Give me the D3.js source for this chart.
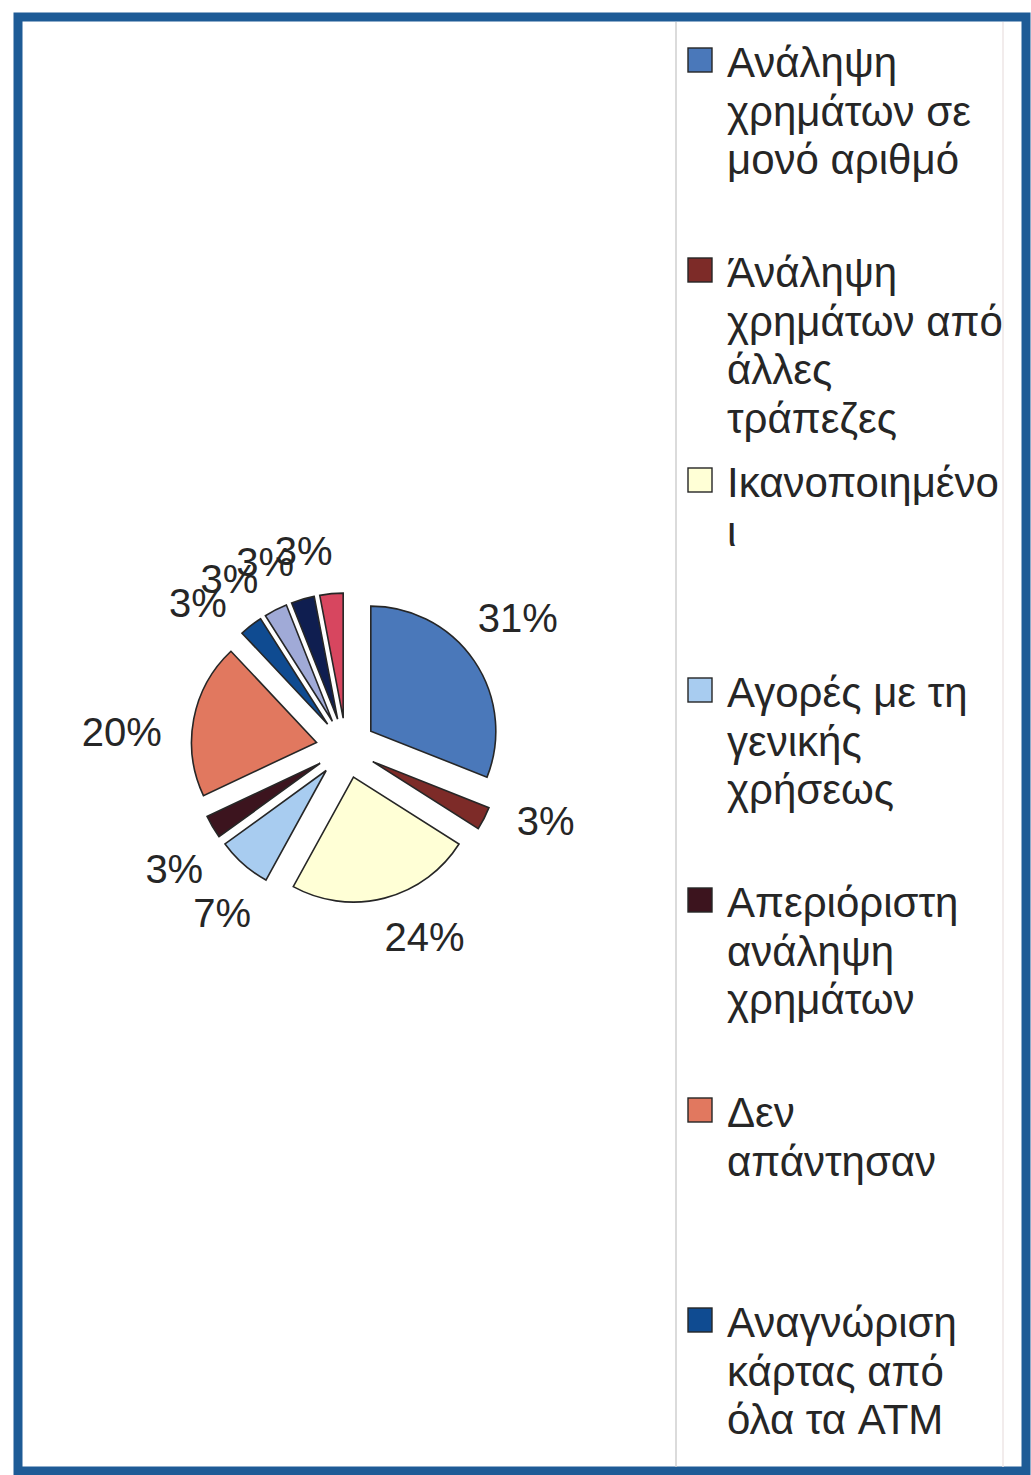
<!DOCTYPE html>
<html>
<head>
<meta charset="utf-8">
<script src="https://cdn.jsdelivr.net/npm/d3@7"></script>
<style>
  html, body { margin: 0; padding: 0; background: #ffffff; }
  svg { display: block; }
  text { font-family: "Liberation Sans", Arial, sans-serif; fill: #262626; }
</style>
</head>
<body>
<svg id="chart" width="1031" height="1475"></svg>
<script>
// Legend entries (only the first seven fit in the legend box)
const categories = [
  "Ανάληψη χρημάτων σε μονό αριθμό",
  "Άνάληψη χρημάτων από άλλες τράπεζες",
  "Ικανοποιημένοι",
  "Αγορές με τη γενικής χρήσεως",
  "Απεριόριστη ανάληψη χρημάτων",
  "Δεν απάντησαν",
  "Αναγνώριση κάρτας από όλα τα ATM"
];

// Slice shares in percent, clockwise from twelve o'clock
const values = [31, 3, 24, 7, 3, 20, 3, 3, 3, 3];

// Slice fills
const colors = [
  "#4a78ba", "#7d2b28", "#ffffd6", "#a8ccf0", "#3c141e",
  "#e1785f", "#0f4b91", "#a0aad7", "#0f1e50", "#d7465f"
];

const svg = d3.select("#chart");
const W = 1031, H = 1475;

// outer frame
svg.append("rect")
  .attr("x", 18).attr("y", 17)
  .attr("width", 1008).attr("height", 1454)
  .attr("fill", "#ffffff")
  .attr("stroke", "#1e5b96")
  .attr("stroke-width", 9);

// legend box edges
svg.append("line")
  .attr("x1", 676).attr("x2", 676).attr("y1", 22).attr("y2", 1467)
  .attr("stroke", "#cfcfcf").attr("stroke-width", 1.5);
svg.append("line")
  .attr("x1", 1003).attr("x2", 1003).attr("y1", 22).attr("y2", 1467)
  .attr("stroke", "#eee6e6").attr("stroke-width", 1.5);

// ---- pie ----
const cx = 346, cy = 748, radius = 125, explode = 30;
const pieGen = d3.pie().sort(null).value(d => d).startAngle(0).endAngle(2 * Math.PI);
const arcs = pieGen(values);
const arcGen = d3.arc().innerRadius(0).outerRadius(radius);

const pieG = svg.append("g").attr("transform", `translate(${cx},${cy})`);

pieG.selectAll("path.slice")
  .data(arcs)
  .join("path")
  .attr("class", "slice")
  .attr("d", arcGen)
  .attr("transform", d => {
    const a = (d.startAngle + d.endAngle) / 2;
    return `translate(${Math.sin(a) * explode},${-Math.cos(a) * explode})`;
  })
  .attr("fill", (d, i) => colors[i])
  .attr("stroke", "#262626")
  .attr("stroke-width", 1.6)
  .attr("stroke-linejoin", "miter");

// percentage labels placed just outside each exploded slice
const labelR = 185, labelTurn = -6 * Math.PI / 180, labelH = 33;
pieG.selectAll("text.pct")
  .data(arcs)
  .join("text")
  .attr("class", "pct")
  .attr("font-size", 40)
  .attr("text-anchor", "middle")
  .attr("dy", "0.36em")
  .text(d => d.data + "%")
  .each(function (d) {
    const a = (d.startAngle + d.endAngle) / 2 + labelTurn;
    const w = this.getComputedTextLength();
    const px = Math.sin(a) * labelR, py = -Math.cos(a) * labelR;
    d3.select(this)
      .attr("x", px + (w / 2) * Math.sin(a))
      .attr("y", py + (labelH / 2) * -Math.cos(a));
  });

// ---- legend ----
const legX = 688, textX = 727, firstY = 62, slot = 210, lineGap = 48.5, maxW = 276;
const legendFont = 42;

const measurer = svg.append("text").attr("font-size", legendFont).attr("visibility", "hidden");
function widthOf(s) { measurer.text(s); return measurer.node().getComputedTextLength(); }

function wrap(label) {
  const words = label.split(" ");
  const lines = [];
  let cur = "";
  words.forEach(wd => {
    const trial = cur ? cur + " " + wd : wd;
    if (widthOf(trial) <= maxW) { cur = trial; return; }
    if (cur) lines.push(cur);
    cur = wd;
    // break a single word that is wider than the box
    while (widthOf(cur) > maxW) {
      let k = cur.length - 1;
      while (k > 1 && widthOf(cur.slice(0, k)) > maxW) k--;
      lines.push(cur.slice(0, k));
      cur = cur.slice(k);
    }
  });
  if (cur) lines.push(cur);
  return lines;
}

const legend = svg.append("g");
categories.forEach((name, i) => {
  const y0 = firstY + i * slot;
  legend.append("rect")
    .attr("x", legX).attr("y", y0 - 14)
    .attr("width", 24).attr("height", 24)
    .attr("fill", colors[i])
    .attr("stroke", "#262626").attr("stroke-width", 1.4);
  const t = legend.append("text")
    .attr("font-size", legendFont)
    .attr("x", textX).attr("y", y0)
    .attr("dy", "0.36em");
  wrap(name).forEach((ln, j) => {
    t.append("tspan").attr("x", textX).attr("y", y0 + j * lineGap).attr("dy", "0.36em").text(ln);
  });
});
measurer.remove();
</script>
</body>
</html>
